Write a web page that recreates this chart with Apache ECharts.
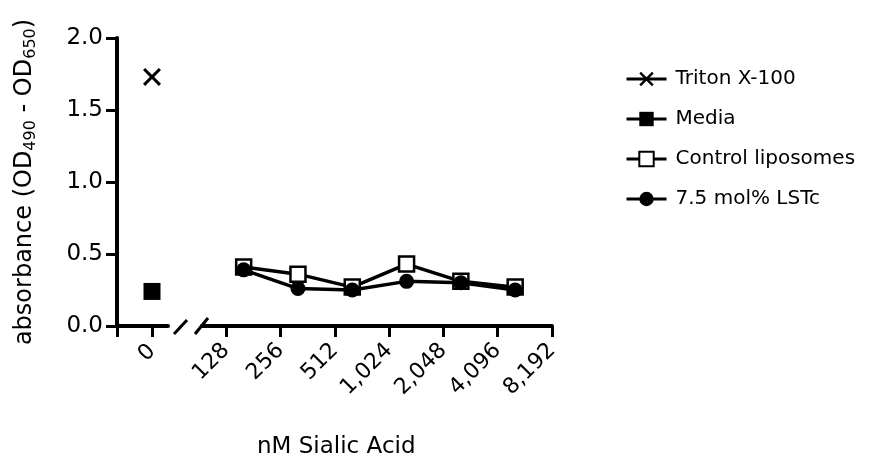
<!DOCTYPE html>
<html>
<head>
<meta charset="utf-8">
<script src="https://cdn.jsdelivr.net/npm/echarts@6/dist/echarts.min.js"></script>
</head>
<body style="margin:0;background:#fff">
<div id="main" style="width:869px;height:469px;"></div>
<script type="text/javascript">
// concentrations (nM sialic acid) of the titration points
var conc = [160, 320, 640, 1280, 2560, 5120];
var controlLipo = [0.41, 0.36, 0.27, 0.43, 0.31, 0.27];
var lstc = [0.39, 0.26, 0.25, 0.31, 0.30, 0.25];
// single controls at 0 nM
var triton = 1.73;
var media = 0.24;
var logTicks = [128, 256, 512, 1024, 2048, 4096, 8192];

var FONT = 'DejaVu Sans';
var xSymbol = 'path://M0,1.2 L1.2,0 L5,3.8 L8.8,0 L10,1.2 L6.2,5 L10,8.8 L8.8,10 L5,6.2 L1.2,10 L0,8.8 L3.8,5 Z';

var myChart = echarts.init(document.getElementById('main'));

function pairs(xs, ys) {
    var out = [];
    for (var i = 0; i < xs.length; i++) out.push([xs[i], ys[i]]);
    return out;
}

var axisLine = {onZero: false, lineStyle: {color: '#000', width: 4}};
var option = {
    animation: false,
    textStyle: {fontFamily: FONT, color: '#000'},
    title: {
        text: 'nM Sialic Acid',
        left: 252, top: 431,
        textStyle: {fontFamily: FONT, fontSize: 23, fontWeight: 'normal', color: '#000'}
    },
    legend: {
        orient: 'vertical',
        left: 620, top: 64,
        itemWidth: 40, itemHeight: 18, itemGap: 20,
        lineStyle: {width: 3, color: '#000'},
        textStyle: {fontFamily: FONT, fontSize: 20, color: '#000', padding: [0, 0, 0, 4]},
        data: ['Triton X-100', 'Media', 'Control liposomes', '7.5 mol% LSTc']
    },
    grid: [
        {left: 117, top: 38, width: 51, height: 288},
        {left: 202, top: 38, width: 350, height: 288}
    ],
    xAxis: [{
        gridIndex: 0, type: 'value', min: -35, max: 16,
        axisLine: axisLine,
        axisTick: {customValues: [-35, 0], length: 11, lineStyle: {color: '#000', width: 3}},
        axisLabel: {customValues: [0], rotate: 45, fontSize: 22, color: '#000', fontFamily: FONT, margin: 22},
        splitLine: {show: false}
    }, {
        gridIndex: 1, type: 'log', logBase: 2, min: 94, max: 8192,
        axisLine: axisLine,
        axisTick: {customValues: logTicks, length: 11, lineStyle: {color: '#000', width: 3}},
        axisLabel: {
            customValues: logTicks, rotate: 45, fontSize: 22, color: '#000', fontFamily: FONT, margin: 21,
            formatter: function (v) { return Math.round(v).toLocaleString('en-US'); }
        },
        splitLine: {show: false}
    }],
    yAxis: [{
        gridIndex: 0, type: 'value', min: 0, max: 2, interval: 0.5,
        axisLine: {show: true, onZero: false, lineStyle: {color: '#000', width: 4}},
        axisTick: {show: true, length: 11, lineStyle: {color: '#000', width: 3}},
        axisLabel: {fontSize: 23, color: '#000', fontFamily: FONT, margin: 14,
            formatter: function (v) { return v.toFixed(1); }},
        splitLine: {show: false},
        name: '{a|absorbance (OD}{s|490}{a| - OD}{s|650}{a|)}',
        nameLocation: 'middle', nameGap: 78,
        nameTextStyle: {
            rich: {
                a: {fontSize: 24, fontFamily: FONT, color: '#000', lineHeight: 28},
                s: {fontSize: 16, fontFamily: FONT, color: '#000', verticalAlign: 'bottom', lineHeight: 28, padding: [8, 0, 0, 0]}
            }
        }
    }, {
        gridIndex: 1, type: 'value', min: 0, max: 2, interval: 0.5, show: false
    }],
    series: [{
        name: 'Triton X-100', type: 'line', xAxisIndex: 0, yAxisIndex: 0,
        data: [[0, triton]], symbol: xSymbol, symbolSize: 18,
        itemStyle: {color: '#000'}, lineStyle: {color: '#000', width: 3}
    }, {
        name: 'Media', type: 'line', xAxisIndex: 0, yAxisIndex: 0,
        data: [[0, media]], symbol: 'rect', symbolSize: 17,
        itemStyle: {color: '#000'}, lineStyle: {color: '#000', width: 3}
    }, {
        name: 'Control liposomes', type: 'line', xAxisIndex: 1, yAxisIndex: 1,
        data: pairs(conc, controlLipo), symbol: 'rect', symbolSize: 15,
        itemStyle: {color: '#fff', borderColor: '#000', borderWidth: 2.5},
        lineStyle: {color: '#000', width: 3.5}
    }, {
        name: '7.5 mol% LSTc', type: 'line', xAxisIndex: 1, yAxisIndex: 1,
        data: pairs(conc, lstc), symbol: 'circle', symbolSize: 15,
        itemStyle: {color: '#000'}, lineStyle: {color: '#000', width: 3.5}
    }],
    graphic: [
        {type: 'line', shape: {x1: 174, y1: 334, x2: 187, y2: 320}, style: {stroke: '#000', lineWidth: 3}},
        {type: 'line', shape: {x1: 195, y1: 334, x2: 208, y2: 318}, style: {stroke: '#000', lineWidth: 3}}
    ]
};
myChart.setOption(option);
</script>
</body>
</html>
